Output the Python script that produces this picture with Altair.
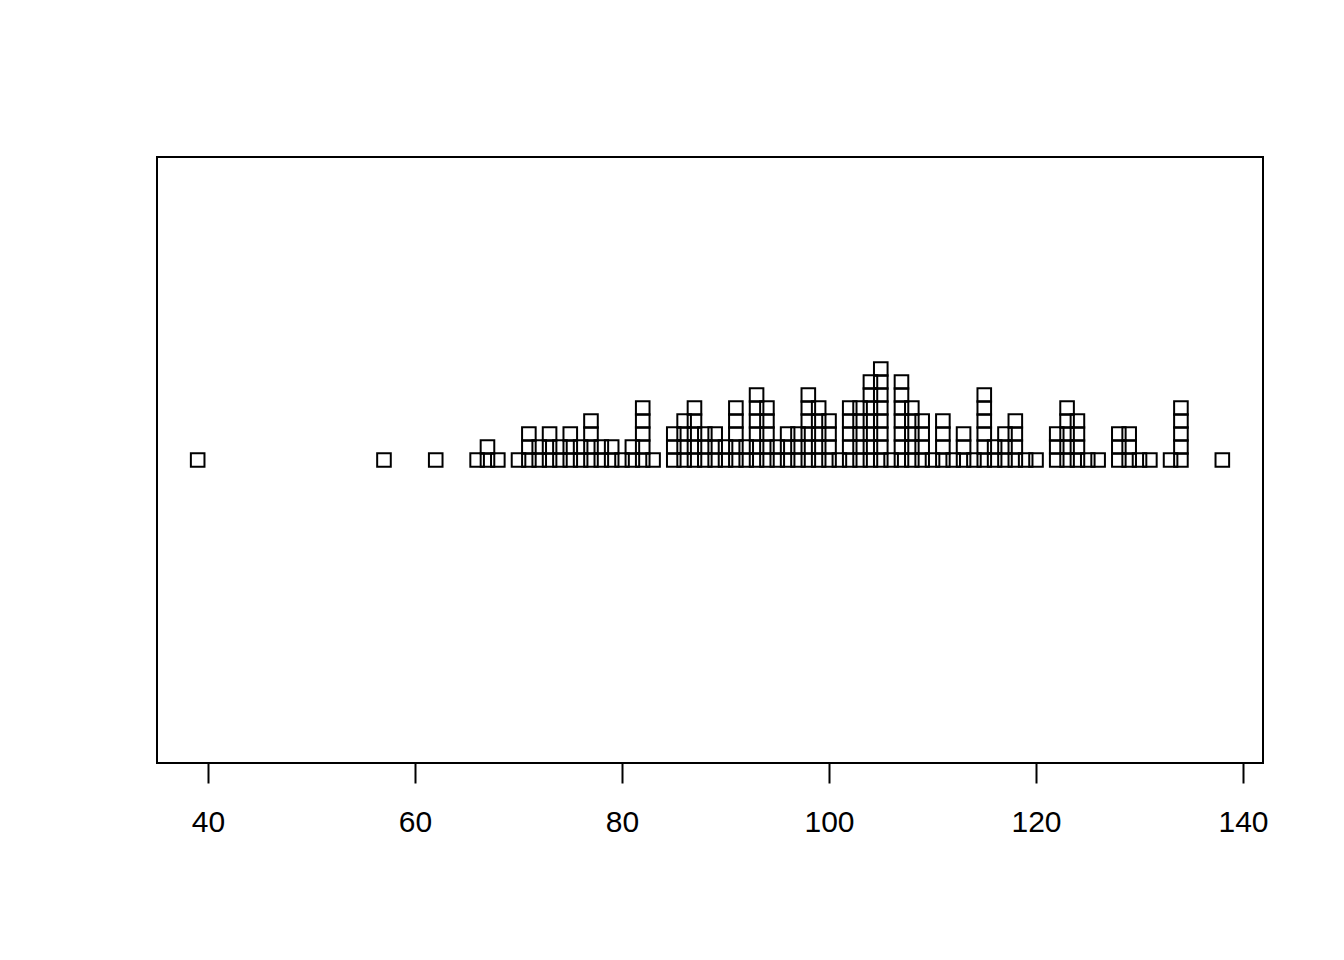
import altair as alt
import pandas as pd

# Observed values (integers) and how many times each occurs (stack height)
values = [39, 57, 62, 66, 67, 68, 70, 71, 72, 73, 74, 75, 76, 77, 78, 79, 80, 81, 82, 83,
          85, 86, 87, 88, 89, 90, 91, 92, 93, 94, 95, 96, 97, 98, 99, 100, 101, 102, 103,
          104, 105, 106, 107, 108, 109, 110, 111, 112, 113, 114, 115, 116, 117, 118, 119,
          120, 122, 123, 124, 125, 126, 128, 129, 130, 131, 133, 134, 138]
counts = [1, 1, 1, 1, 2, 1, 1, 3, 2, 3, 2, 3, 2, 4, 2, 2, 1, 2, 5, 1,
          3, 4, 5, 3, 3, 2, 5, 2, 6, 5, 2, 3, 3, 6, 5, 4, 1, 5, 5,
          7, 8, 1, 7, 5, 4, 1, 4, 1, 3, 1, 6, 2, 3, 4, 1,
          1, 3, 5, 4, 1, 1, 3, 3, 1, 1, 1, 5, 1]
x_ticks = [40, 60, 80, 100, 120, 140]

obs = []
for v, c in zip(values, counts):
    obs.extend([v] * c)
df = pd.DataFrame({"value": obs})

chart = (
    alt.Chart(df)
    .transform_window(level="row_number()", groupby=["value"])
    .mark_point(shape="square", filled=False, color="black", strokeWidth=2, size=185, opacity=1)
    .encode(
        x=alt.X("value:Q",
                scale=alt.Scale(domain=[35.07, 141.93], nice=False, zero=False),
                axis=alt.Axis(values=x_ticks, title=None, grid=False, domain=False,
                              tickSize=20, tickWidth=2, tickColor="black",
                              labelFont="Liberation Sans", labelFontSize=30,
                              labelColor="black", labelPadding=24)),
        y=alt.Y("level:Q",
                scale=alt.Scale(domain=[-22.308, 24.308], nice=False, zero=False),
                axis=None),
    )
    .properties(
        width=1106, height=606,
        background="white",
        autosize=alt.AutoSizeParams(type="none"),
        padding={"left": 149, "top": 149, "right": 73, "bottom": 189},
    )
    .configure_view(stroke="black", strokeWidth=2)
)

chart.save("out.html", embed_options={"renderer": "svg", "actions": False})
